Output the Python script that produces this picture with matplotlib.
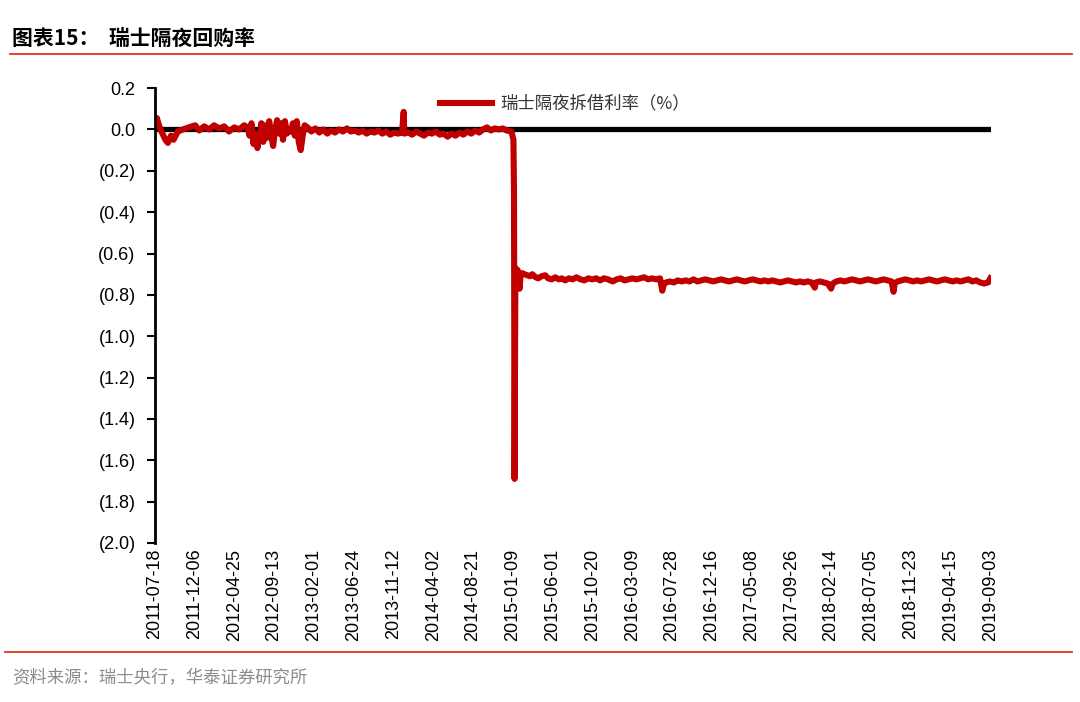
import matplotlib
matplotlib.use("Agg")
import matplotlib.pyplot as plt
from matplotlib.ticker import FuncFormatter, MultipleLocator
import pandas as pd

plt.rcParams["font.family"] = ["Liberation Sans", "Noto Sans CJK SC"]

# ---- data ----
# before the floor was removed (2011-07 .. 2015-01)
dates_pre = [
    "2011-07-18", "2011-07-25", "2011-08-01", "2011-08-10", "2011-08-24", "2011-09-02",
    "2011-09-13", "2011-09-22", "2011-10-07", "2011-10-25", "2011-11-15", "2011-12-08",
    "2011-12-22", "2012-01-09", "2012-01-27", "2012-02-13", "2012-03-02", "2012-03-20",
    "2012-04-06", "2012-04-25", "2012-05-12", "2012-05-30", "2012-06-11", "2012-06-18",
    "2012-06-25", "2012-07-02", "2012-07-09", "2012-07-16", "2012-07-23", "2012-07-30",
    "2012-08-06", "2012-08-13", "2012-08-20", "2012-08-27", "2012-09-03", "2012-09-10",
    "2012-09-17", "2012-09-24", "2012-10-01", "2012-10-08", "2012-10-15", "2012-10-22",
    "2012-10-29", "2012-11-05", "2012-11-12", "2012-11-19", "2012-11-26", "2012-12-03",
    "2012-12-10", "2012-12-17", "2012-12-24", "2012-12-31", "2013-01-10", "2013-01-24",
    "2013-02-07", "2013-02-21", "2013-03-07", "2013-03-21", "2013-04-04", "2013-04-18",
    "2013-05-02", "2013-05-16", "2013-05-30", "2013-06-13", "2013-06-27", "2013-07-11",
    "2013-07-25", "2013-08-08", "2013-08-22", "2013-09-05", "2013-09-19", "2013-10-03",
    "2013-10-17", "2013-10-31", "2013-11-14", "2013-11-28", "2013-12-12", "2013-12-18",
    "2013-12-20", "2014-01-03", "2014-01-17", "2014-01-31", "2014-02-14", "2014-02-28",
    "2014-03-14", "2014-03-28", "2014-04-11", "2014-04-25", "2014-05-09", "2014-05-23",
    "2014-06-06", "2014-06-20", "2014-07-04", "2014-07-18", "2014-08-01", "2014-08-15",
    "2014-08-29", "2014-09-12", "2014-09-26", "2014-10-10", "2014-10-24", "2014-11-07",
    "2014-11-21", "2014-12-05", "2014-12-19", "2015-01-05", "2015-01-12", "2015-01-14",
    "2015-01-16",
]
rates_pre = [
    0.03, 0.055, 0.02, -0.01, -0.05, -0.065,
    -0.03, -0.05, -0.01, 0.0, 0.01, 0.02,
    -0.005, 0.015, 0.0, 0.02, 0.005, 0.015,
    -0.01, 0.01, 0.0, 0.02, 0.01, -0.03,
    0.03, -0.07, -0.02, -0.09, -0.04, 0.03,
    -0.06, 0.02, -0.04, 0.04, -0.03, -0.08,
    0.0, 0.045, -0.02, 0.03, -0.05, 0.04,
    -0.02, 0.0, -0.01, 0.03, -0.03, 0.04,
    -0.06, -0.10, -0.03, 0.02, 0.01, -0.01,
    0.005, -0.015, 0.0, -0.02, -0.005, -0.015,
    0.0, -0.01, 0.005, -0.01, -0.005, -0.015,
    -0.005, -0.02, -0.01, -0.015, -0.005, -0.02,
    -0.01, -0.025, -0.015, -0.02, -0.015, 0.085,
    -0.02, -0.015, -0.025, -0.01, -0.02, -0.03,
    -0.015, -0.02, -0.01, -0.025, -0.02, -0.035,
    -0.02, -0.03, -0.015, -0.025, -0.01, -0.02,
    -0.005, -0.015, 0.0, 0.01, -0.005, 0.005,
    0.0, 0.005, -0.005, -0.01, -0.05, -0.3,
    -1.69,
]

# after 2015-01-15
dates_post = [
    "2015-01-19", "2015-01-22", "2015-01-27", "2015-01-30", "2015-02-03", "2015-02-06",
    "2015-02-12", "2015-02-20", "2015-03-02", "2015-03-12", "2015-03-20", "2015-04-01",
    "2015-04-10", "2015-04-22", "2015-05-05", "2015-05-15", "2015-05-28", "2015-06-10",
    "2015-06-22", "2015-07-03", "2015-07-15", "2015-07-28", "2015-08-10", "2015-08-24",
    "2015-09-07", "2015-09-21", "2015-10-05", "2015-10-19", "2015-11-02", "2015-11-16",
    "2015-11-30", "2015-12-14", "2015-12-31", "2016-01-14", "2016-01-28", "2016-02-11",
    "2016-02-25", "2016-03-10", "2016-03-24", "2016-04-07", "2016-04-21", "2016-05-05",
    "2016-05-19", "2016-06-02", "2016-06-16", "2016-06-24", "2016-06-29", "2016-07-07",
    "2016-07-21", "2016-08-04", "2016-08-18", "2016-09-01", "2016-09-15", "2016-09-29",
    "2016-10-13", "2016-10-27", "2016-11-10", "2016-11-24", "2016-12-08", "2016-12-22",
    "2017-01-05", "2017-01-19", "2017-02-02", "2017-02-16", "2017-03-02", "2017-03-16",
    "2017-03-30", "2017-04-13", "2017-04-27", "2017-05-11", "2017-05-25", "2017-06-08",
    "2017-06-22", "2017-07-06", "2017-07-20", "2017-08-03", "2017-08-17", "2017-08-31",
    "2017-09-14", "2017-09-28", "2017-10-12", "2017-10-26", "2017-11-09", "2017-11-23",
    "2017-12-07", "2017-12-18", "2017-12-22", "2018-01-05", "2018-01-19", "2018-02-02",
    "2018-02-14", "2018-02-20", "2018-03-05", "2018-03-19", "2018-04-02", "2018-04-16",
    "2018-04-30", "2018-05-14", "2018-05-28", "2018-06-11", "2018-06-25", "2018-07-09",
    "2018-07-23", "2018-08-06", "2018-08-20", "2018-09-03", "2018-09-17", "2018-09-24",
    "2018-09-28", "2018-10-08", "2018-10-22", "2018-11-05", "2018-11-19", "2018-12-03",
    "2018-12-17", "2018-12-31", "2019-01-14", "2019-01-28", "2019-02-11", "2019-02-25",
    "2019-03-11", "2019-03-25", "2019-04-08", "2019-04-22", "2019-05-06", "2019-05-20",
    "2019-06-03", "2019-06-17", "2019-07-01", "2019-07-15", "2019-07-29", "2019-08-12",
    "2019-08-26", "2019-09-03",
]
rates_post = [
    -0.67, -0.69, -0.68, -0.72, -0.77, -0.71,
    -0.695, -0.70, -0.705, -0.71, -0.70, -0.715,
    -0.72, -0.71, -0.705, -0.72, -0.725, -0.715,
    -0.725, -0.72, -0.73, -0.72, -0.725, -0.715,
    -0.725, -0.73, -0.72, -0.725, -0.72, -0.73,
    -0.72, -0.725, -0.735, -0.725, -0.72, -0.73,
    -0.725, -0.72, -0.725, -0.72, -0.715, -0.725,
    -0.72, -0.725, -0.72, -0.78, -0.75, -0.74,
    -0.735, -0.74, -0.73, -0.735, -0.73, -0.735,
    -0.725, -0.735, -0.73, -0.725, -0.73, -0.735,
    -0.73, -0.725, -0.73, -0.735, -0.73, -0.725,
    -0.73, -0.735, -0.73, -0.725, -0.73, -0.735,
    -0.73, -0.735, -0.73, -0.735, -0.74, -0.735,
    -0.73, -0.735, -0.74, -0.735, -0.74, -0.735,
    -0.74, -0.765, -0.74, -0.735, -0.74, -0.745,
    -0.77, -0.745, -0.735, -0.73, -0.735, -0.73,
    -0.725, -0.73, -0.735, -0.73, -0.725, -0.73,
    -0.735, -0.73, -0.725, -0.73, -0.735, -0.785,
    -0.745, -0.735, -0.73, -0.725, -0.73, -0.735,
    -0.73, -0.735, -0.73, -0.725, -0.73, -0.735,
    -0.73, -0.725, -0.73, -0.735, -0.73, -0.735,
    -0.73, -0.725, -0.735, -0.73, -0.74, -0.745,
    -0.74, -0.72,
]

tick_labels = [
    "2011-07-18", "2011-12-06", "2012-04-25", "2012-09-13", "2013-02-01", "2013-06-24",
    "2013-11-12", "2014-04-02", "2014-08-21", "2015-01-09", "2015-06-01", "2015-10-20",
    "2016-03-09", "2016-07-28", "2016-12-16", "2017-05-08", "2017-09-26", "2018-02-14",
    "2018-07-05", "2018-11-23", "2019-04-15", "2019-09-03",
]

series_name = "瑞士隔夜拆借利率（%）"
title = "图表15：  瑞士隔夜回购率"
source = "资料来源：瑞士央行，华泰证券研究所"

dates = pd.to_datetime(dates_pre + dates_post)
rates = rates_pre + rates_post

# ---- figure ----
fig = plt.figure(figsize=(10.8, 7.02), dpi=100)
ax = fig.add_axes([0.1435, 0.2265, 0.774, 0.648])

ax.axhline(0, color="black", lw=3.8, zorder=1, solid_capstyle="butt")
ax.plot(dates, rates, color="#C00000", lw=4.4, zorder=2,
        solid_joinstyle="round", label=series_name)

ax.set_ylim(-2.0, 0.2)
ax.yaxis.set_major_locator(MultipleLocator(0.2))


def fmt(v, pos):
    v = round(v, 1)
    if v < 0:
        return "(%.1f)" % abs(v)
    return "%.1f" % v


ax.yaxis.set_major_formatter(FuncFormatter(fmt))
ax.set_xlim(pd.Timestamp("2011-07-18"), pd.Timestamp("2019-09-05"))
ax.set_xticks(pd.to_datetime(tick_labels))
ax.set_xticklabels(tick_labels, rotation=90, fontsize=13)
ax.tick_params(axis="x", length=0, pad=4)
ax.tick_params(axis="y", direction="out", length=6, width=1.5, labelsize=13, pad=8)

for s in ["top", "right", "bottom"]:
    ax.spines[s].set_visible(False)
ax.spines["left"].set_linewidth(2)

leg = ax.legend(loc="upper left", bbox_to_anchor=(0.322, 1.02), frameon=False,
                handlelength=3.0, handletextpad=0.5,
                prop={"family": "Noto Sans CJK SC", "size": 12.5})
for t in leg.get_texts():
    t.set_color("#333333")

# title, header/footer rules
fig.text(0.011, 0.945, title, fontsize=15, fontweight="bold",
         family=["Noto Sans CJK SC", "DejaVu Sans"], va="center", ha="left")
fig.add_artist(plt.Line2D([0.009, 0.993], [0.923, 0.923], color="#E8301E", lw=1.3))
fig.add_artist(plt.Line2D([0.005, 0.993], [0.071, 0.071], color="#E8301E", lw=1.3))
fig.text(0.011, 0.034, source, fontsize=12.5, color="#8C8C8C",
         family=["Noto Sans CJK SC", "DejaVu Sans"], va="center", ha="left")

fig.savefig("out.png", dpi=100)
